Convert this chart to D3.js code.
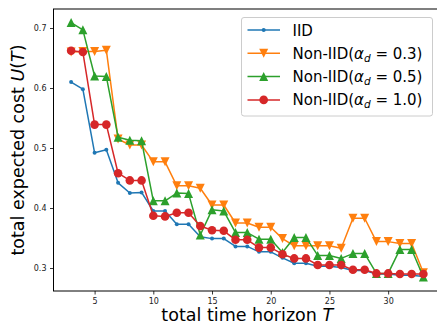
<!DOCTYPE html>
<html>
<head>
<meta charset="utf-8">
<script src="https://cdn.jsdelivr.net/npm/d3@7"></script>
<style>
  body { margin: 0; background: #fff; }
  text { font-family: "DejaVu Sans", sans-serif; }
</style>
</head>
<body>
<div id="chart"></div>
<script>
// values
const horizon = d3.range(3, 34);
const iid  = [0.610, 0.598, 0.492, 0.497, 0.442, 0.425, 0.426, 0.395, 0.395, 0.373, 0.373,
              0.352, 0.349, 0.349, 0.336, 0.336, 0.327, 0.327, 0.317, 0.308, 0.308, 0.303,
              0.303, 0.301, 0.296, 0.296, 0.290, 0.290, 0.288, 0.288, 0.286];
const non03 = [0.660, 0.661, 0.661, 0.663, 0.515, 0.505, 0.505, 0.477, 0.477, 0.437, 0.437,
               0.433, 0.405, 0.405, 0.375, 0.375, 0.368, 0.368, 0.349, 0.337, 0.337, 0.337,
               0.337, 0.333, 0.383, 0.383, 0.344, 0.344, 0.341, 0.341, 0.292];
const non05 = [0.709, 0.697, 0.620, 0.619, 0.518, 0.513, 0.512, 0.412, 0.412, 0.425, 0.424,
               0.355, 0.397, 0.395, 0.359, 0.359, 0.348, 0.348, 0.326, 0.351, 0.351, 0.321,
               0.321, 0.316, 0.324, 0.324, 0.291, 0.291, 0.331, 0.331, 0.285];
const non10 = [0.662, 0.660, 0.539, 0.539, 0.458, 0.446, 0.446, 0.387, 0.386, 0.392, 0.392,
               0.370, 0.363, 0.362, 0.347, 0.347, 0.334, 0.334, 0.323, 0.316, 0.316, 0.305,
               0.305, 0.305, 0.297, 0.297, 0.291, 0.291, 0.290, 0.290, 0.290];
const xTicks = [5, 10, 15, 20, 25, 30];
const yTicks = [0.3, 0.4, 0.5, 0.6, 0.7];
const alphas = [null, "0.3", "0.5", "1.0"];

const series = [
  { name: "IID", values: iid, color: "#1f77b4", marker: "dot" },
  { name: "Non-IID", values: non03, color: "#ff7f0e", marker: "down", alpha: alphas[1] },
  { name: "Non-IID", values: non05, color: "#2ca02c", marker: "up", alpha: alphas[2] },
  { name: "Non-IID", values: non10, color: "#d62728", marker: "circle", alpha: alphas[3] }
];

const W = 437, H = 331;
const m = { left: 53.5, top: 9, bottom: 291, right: 441 };

const svg = d3.select("#chart").append("svg")
  .attr("width", W).attr("height", H);

const x = d3.scaleLinear().domain([1.5, 34.5]).range([m.left, m.right]);
const y = d3.scaleLinear().domain([0.2617, 0.7317]).range([m.bottom, m.top]);

// marker paths
function markerPath(kind) {
  const r = 4.5;
  if (kind === "up") return "M0," + (-r) + "L" + (-r) + "," + r + "L" + r + "," + r + "Z";
  if (kind === "down") return "M0," + r + "L" + (-r) + "," + (-r) + "L" + r + "," + (-r) + "Z";
  if (kind === "circle") return d3.symbol().type(d3.symbolCircle).size(Math.PI * 4.3 * 4.3)();
  return d3.symbol().type(d3.symbolCircle).size(Math.PI * 2 * 2)();
}

// axes
const xAxis = d3.axisBottom(x).tickValues(xTicks).tickSizeOuter(0).tickSize(3.5).tickPadding(3.5);
const yAxis = d3.axisLeft(y).tickValues(yTicks).tickFormat(d3.format(".1f")).tickSizeOuter(0).tickSize(3.5).tickPadding(3.5);

const gx = svg.append("g").attr("transform", "translate(0," + m.bottom + ")").call(xAxis);
const gy = svg.append("g").attr("transform", "translate(" + m.left + ",0)").call(yAxis);
[gx, gy].forEach(function(g) {
  g.select(".domain").remove();
  g.selectAll("line").attr("stroke", "#000").attr("stroke-width", 0.8);
  g.selectAll("text").attr("fill", "#222").style("font-size", "8px").style("font-family", "DejaVu Sans");
});

// frame
svg.append("rect")
  .attr("x", m.left).attr("y", m.top)
  .attr("width", m.right - m.left).attr("height", m.bottom - m.top)
  .attr("fill", "none").attr("stroke", "#000").attr("stroke-width", 1);

// lines + markers
const line = d3.line()
  .x(function(d, i) { return x(horizon[i]); })
  .y(function(d) { return y(d); });

series.forEach(function(s) {
  svg.append("path")
    .datum(s.values)
    .attr("d", line)
    .attr("fill", "none")
    .attr("stroke", s.color)
    .attr("stroke-width", 1.5)
    .attr("stroke-linejoin", "round");

  svg.selectAll(null)
    .data(s.values)
    .enter().append("path")
    .attr("d", markerPath(s.marker))
    .attr("transform", function(d, i) { return "translate(" + x(horizon[i]) + "," + y(d) + ")"; })
    .attr("fill", s.color);
});

// axis labels
svg.append("text")
  .attr("x", (m.left + m.right) / 2)
  .attr("y", 321)
  .attr("text-anchor", "middle")
  .style("font-size", "17.5px")
  .text("total time horizon ")
  .append("tspan").style("font-style", "italic").text("T");

const yl = svg.append("text")
  .attr("transform", "translate(24," + ((m.top + m.bottom) / 2) + ") rotate(-90)")
  .attr("text-anchor", "middle")
  .style("font-size", "17.5px")
  .text("total expected cost ");
yl.append("tspan").style("font-style", "italic").text("U");
yl.append("tspan").text("(");
yl.append("tspan").style("font-style", "italic").text("T");
yl.append("tspan").text(")");

// legend
const lg = svg.append("g");
lg.append("rect")
  .attr("x", 241.5).attr("y", 17.5)
  .attr("width", 191).attr("height", 98.5)
  .attr("rx", 2.5)
  .attr("fill", "#fff").attr("fill-opacity", 0.8)
  .attr("stroke", "#ccc").attr("stroke-width", 1);

series.forEach(function(s, i) {
  const ly = 30 + i * 23.3;
  lg.append("line")
    .attr("x1", 247.5).attr("x2", 280)
    .attr("y1", ly).attr("y2", ly)
    .attr("stroke", s.color).attr("stroke-width", 1.5);
  lg.append("path")
    .attr("d", markerPath(s.marker))
    .attr("transform", "translate(263.7," + ly + ")")
    .attr("fill", s.color);
  const t = lg.append("text")
    .attr("x", 292.5).attr("y", ly + 5.5)
    .style("font-size", "15px");
  if (!s.alpha) {
    t.text(s.name);
  } else {
    t.append("tspan").text(s.name + "(");
    t.append("tspan").style("font-style", "italic").text("α");
    t.append("tspan").style("font-style", "italic").style("font-size", "10.5px").attr("dy", 3).text("d");
    t.append("tspan").attr("dy", -3).text(" = " + s.alpha + ")");
  }
});
</script>
</body>
</html>
